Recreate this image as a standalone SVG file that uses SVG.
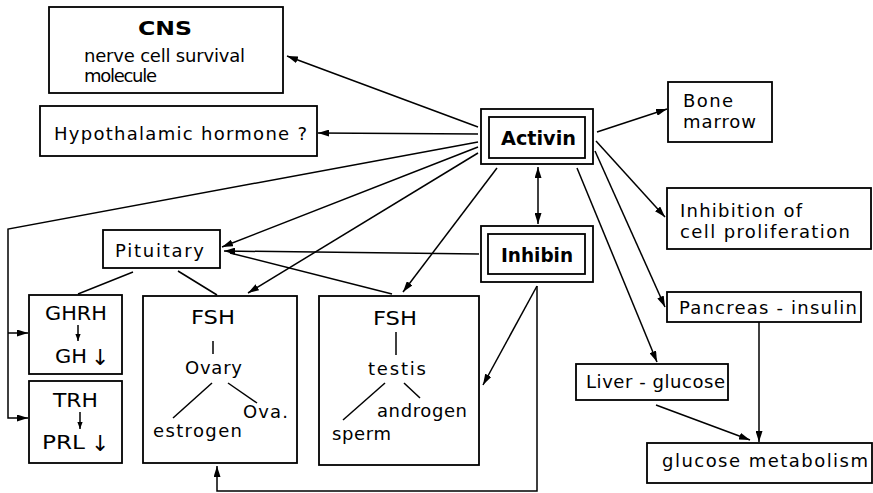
<svg xmlns="http://www.w3.org/2000/svg" width="873" height="493" viewBox="0 0 873 493">
<defs>
<style>
.box{fill:#fff;stroke:#000;stroke-width:1.8}
.ln{fill:none;stroke:#000;stroke-width:1.5}
.t{font-family:"DejaVu Sans","Liberation Sans",Arial,sans-serif;font-size:18px;fill:#000}
.c{font-family:"DejaVu Sans","Liberation Sans",Arial,sans-serif;font-size:20px;fill:#000}
.b{font-family:"DejaVu Sans","Liberation Sans",Arial,sans-serif;font-size:19px;font-weight:bold;fill:#000}
.sym{font-family:"DejaVu Sans",sans-serif;font-size:22px;fill:#000}
</style>
<marker id="ah" viewBox="0 0 11 7" refX="11" refY="3.5" markerWidth="11" markerHeight="7" orient="auto-start-reverse" markerUnits="userSpaceOnUse">
<path d="M0,0 L11,3.5 L0,7 z" fill="#000"/>
</marker>
<marker id="sa" viewBox="0 0 8 6" refX="8" refY="3" markerWidth="7" markerHeight="6" orient="auto" markerUnits="userSpaceOnUse">
<path d="M0,0 L8,3 L0,6 z" fill="#000"/>
</marker>
</defs>
<rect width="873" height="493" fill="#fff"/>

<g id="connectors">
<line class="ln" x1="478" y1="127" x2="287" y2="56" marker-end="url(#ah)"/>
<line class="ln" x1="478" y1="134" x2="318" y2="133" marker-end="url(#ah)"/>
<path class="ln" d="M478,142 L8,229 L8,418 L28,418" marker-end="url(#ah)"/>
<line class="ln" x1="8" y1="333" x2="28" y2="333" marker-end="url(#ah)"/>
<line class="ln" x1="478" y1="147" x2="222" y2="247" marker-end="url(#ah)"/>
<line class="ln" x1="478" y1="153" x2="248" y2="293" marker-end="url(#ah)"/>
<line class="ln" x1="497" y1="168" x2="403" y2="292" marker-end="url(#ah)"/>
<line class="ln" x1="538" y1="167" x2="538" y2="224" marker-start="url(#ah)" marker-end="url(#ah)"/>
<line class="ln" x1="479" y1="254" x2="224" y2="251" marker-end="url(#ah)"/>
<line class="ln" x1="392" y1="294" x2="230" y2="253"/>
<line class="ln" x1="537" y1="286" x2="483" y2="385" marker-end="url(#ah)"/>
<path class="ln" d="M537,286 L537,491 L217,491 L217,466" marker-end="url(#ah)"/>
<line class="ln" x1="597" y1="132" x2="667" y2="109" marker-end="url(#ah)"/>
<line class="ln" x1="596" y1="141" x2="665" y2="217" marker-end="url(#ah)"/>
<line class="ln" x1="595" y1="151" x2="665" y2="307" marker-end="url(#ah)"/>
<line class="ln" x1="577" y1="168" x2="657" y2="362" marker-end="url(#ah)"/>
<line class="ln" x1="759" y1="322" x2="759" y2="442" marker-end="url(#ah)"/>
<line class="ln" x1="656" y1="405" x2="750" y2="440" marker-end="url(#ah)"/>
<line class="ln" x1="133" y1="272" x2="78" y2="294"/>
<line class="ln" x1="178" y1="271" x2="217" y2="295"/>
</g>

<g id="cns">
<rect class="box" x="49" y="7" width="234" height="86"/>
<text class="b" x="165" y="35" font-size="20" text-anchor="middle" textLength="54" lengthAdjust="spacingAndGlyphs">CNS</text>
<text class="t" x="84" y="62" font-size="15" textLength="161" lengthAdjust="spacing">nerve cell survival</text>
<text class="t" x="84" y="82" font-size="15" textLength="73" lengthAdjust="spacing">molecule</text>
</g>

<g id="hypothalamic">
<rect class="box" x="40" y="106" width="277" height="50"/>
<text class="t" x="54" y="140" textLength="253" lengthAdjust="spacing">Hypothalamic hormone ?</text>
</g>

<g id="activin">
<rect class="box" x="481" y="109" width="112" height="55"/>
<rect class="box" x="489" y="117" width="96" height="41"/>
<text class="b" x="501" y="145" textLength="75" lengthAdjust="spacingAndGlyphs">Activin</text>
</g>

<g id="inhibin">
<rect class="box" x="481" y="226" width="112" height="56"/>
<rect class="box" x="488" y="234" width="97" height="40"/>
<text class="b" x="501" y="262" textLength="72" lengthAdjust="spacingAndGlyphs">Inhibin</text>
</g>

<g id="bone-marrow">
<rect class="box" x="668" y="82" width="104" height="60"/>
<text class="t" x="683" y="107" textLength="50" lengthAdjust="spacing">Bone</text>
<text class="t" x="683" y="128" textLength="73" lengthAdjust="spacing">marrow</text>
</g>

<g id="inhibition">
<rect class="box" x="667" y="188" width="204" height="61"/>
<text class="t" x="680" y="217" textLength="122" lengthAdjust="spacing">Inhibition of</text>
<text class="t" x="680" y="238" textLength="170" lengthAdjust="spacing">cell proliferation</text>
</g>

<g id="pancreas">
<rect class="box" x="667" y="292" width="194" height="30"/>
<text class="t" x="679" y="314" textLength="178" lengthAdjust="spacing">Pancreas - insulin</text>
</g>

<g id="liver">
<rect class="box" x="576" y="364" width="152" height="36"/>
<text class="t" x="586" y="388" textLength="139" lengthAdjust="spacing">Liver - glucose</text>
</g>

<g id="glucose-metabolism">
<rect class="box" x="647" y="443" width="225" height="40"/>
<text class="t" x="662" y="467" textLength="206" lengthAdjust="spacing">glucose metabolism</text>
</g>

<g id="pituitary">
<rect class="box" x="103" y="230" width="117" height="38"/>
<text class="t" x="115" y="257" textLength="89" lengthAdjust="spacing">Pituitary</text>
</g>

<g id="ghrh">
<rect class="box" x="29" y="295" width="93" height="79"/>
<text class="c" x="45" y="320" textLength="62" lengthAdjust="spacingAndGlyphs">GHRH</text>
<line class="ln" x1="78" y1="325" x2="78" y2="341" stroke-width="1.3" marker-end="url(#sa)"/>
<text class="c" x="55" y="363" textLength="32" lengthAdjust="spacingAndGlyphs">GH</text>
<text class="sym" x="91" y="365">↓</text>
</g>

<g id="trh">
<rect class="box" x="29" y="381" width="93" height="82"/>
<text class="c" x="53" y="407" textLength="45" lengthAdjust="spacingAndGlyphs">TRH</text>
<line class="ln" x1="80" y1="412" x2="80" y2="429" stroke-width="1.3" marker-end="url(#sa)"/>
<text class="c" x="42" y="449" textLength="43" lengthAdjust="spacingAndGlyphs">PRL</text>
<text class="sym" x="91" y="451">↓</text>
</g>

<g id="ovary">
<rect class="box" x="143" y="296" width="154" height="167"/>
<text class="c" x="191" y="324" textLength="44" lengthAdjust="spacingAndGlyphs">FSH</text>
<line class="ln" x1="213" y1="341" x2="213" y2="354" stroke-width="1.2"/>
<text class="t" x="185" y="374" textLength="57" lengthAdjust="spacing">Ovary</text>
<line class="ln" x1="212" y1="383" x2="173" y2="418" stroke-width="1.2"/>
<line class="ln" x1="228" y1="383" x2="257" y2="403" stroke-width="1.2"/>
<text class="t" x="243" y="418" textLength="45" lengthAdjust="spacing">Ova.</text>
<text class="t" x="153" y="437" textLength="89" lengthAdjust="spacing">estrogen</text>
</g>

<g id="testis">
<rect class="box" x="319" y="296" width="160" height="169"/>
<text class="c" x="373" y="325" textLength="44" lengthAdjust="spacingAndGlyphs">FSH</text>
<line class="ln" x1="396" y1="332" x2="396" y2="355" stroke-width="1.2"/>
<text class="t" x="368" y="375" textLength="58" lengthAdjust="spacing">testis</text>
<line class="ln" x1="385" y1="383" x2="343" y2="420" stroke-width="1.2"/>
<line class="ln" x1="404" y1="383" x2="420" y2="398" stroke-width="1.2"/>
<text class="t" x="377" y="417" textLength="90" lengthAdjust="spacing">androgen</text>
<text class="t" x="332" y="440" textLength="59" lengthAdjust="spacing">sperm</text>
</g>
</svg>
